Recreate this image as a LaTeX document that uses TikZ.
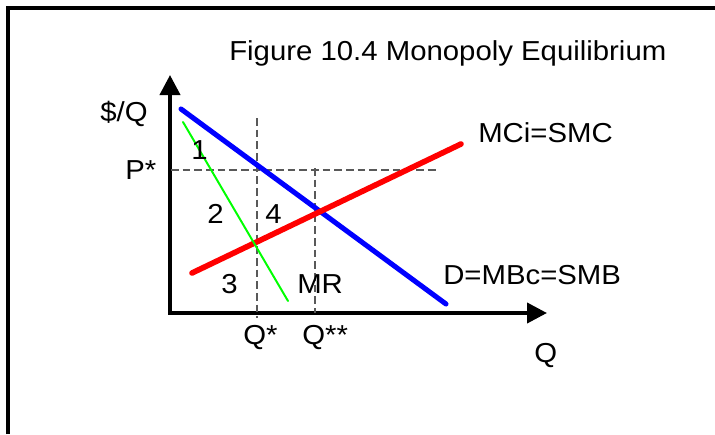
\documentclass[tikz,border=0pt]{standalone}
\usepackage{fontspec}
\setmainfont{Liberation Sans}[FakeStretch=1.07]
\usetikzlibrary{arrows.meta}

\begin{document}
\begin{tikzpicture}[x=0.025cm, y=-0.025cm, >={Triangle[length=0.5cm, width=0.5cm]}]
  % Styles
  \tikzset{
    frame/.style={line width=2.2pt},
    axis/.style={<->, line width=2.8pt},
    demand/.style={line width=3.6pt, blue, line cap=round},
    cost/.style={line width=4pt, red, line cap=round},
    mrev/.style={line width=1.4pt, green, line cap=round},
    guide/.style={dash pattern=on 5.5pt off 2.8pt, line width=0.75pt, black!65},
    lbl/.style={anchor=base west, inner sep=0pt, font=\fontsize{19.5pt}{23pt}\selectfont}
  }
  \useasboundingbox (0,0) rectangle (715,434);

  % Frame (open on the right and at the bottom)
  \draw[frame] (8,434) -- (8,8) -- (715,8);

  % Axes
  \coordinate (O) at (170,313);
  \coordinate (ytip) at (170,75);
  \coordinate (xtip) at (547,313);
  \draw[axis] (ytip) -- (O) -- (xtip);

  % --- Guide lines (P*, Q*, Q**) ---
  \draw[guide] (171,170) -- (439,170);
  \draw[guide] (257,118) -- (257,318);
  \draw[guide] (315,168) -- (315,313);

  % --- Curves ---
  \draw[demand] (181,109) -- (446,304);
  \draw[cost] (192,273) -- (461,144);
  \draw[mrev] (183,122) -- (288,301);

  % Title
  \node[lbl] (title) at (229,60) {Figure 10.4 Monopoly Equilibrium};

  % Axis labels
  \node[lbl] (ylab) at (100,121) {\$/Q};
  \node[lbl] (xlab) at (534,362) {Q};
  \node[lbl] (pstar) at (125,179) {P*};
  \node[lbl] (qstar) at (243,344) {Q*};
  \node[lbl] (qstar2) at (302,344) {Q**};

  % Curve labels
  \node[lbl] (mclab) at (478,142) {MCi=SMC};
  \node[lbl] (dlab) at (443,284) {D=MBc=SMB};
  \node[lbl] (mrlab) at (297,293) {MR};

  % Areas
  \node[lbl] (a1) at (191,159) {1};
  \node[lbl] (a2) at (207,223) {2};
  \node[lbl] (a4) at (265,223) {4};
  \node[lbl] (a3) at (221,293) {3};
\end{tikzpicture}
\end{document}
